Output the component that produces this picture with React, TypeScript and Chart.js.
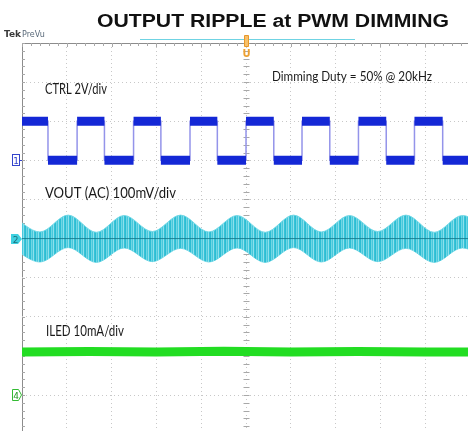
import { useEffect, useRef } from "react";
import { Chart, registerables } from "chart.js";

Chart.register(...registerables);

// ---- scope screen (divisions) ----
const X_MAX = 9.955; // visible horizontal divisions
const Y_MAX = 9.92; // visible vertical divisions (counted from top)
const xGridTicks = [0, 1, 2, 3, 4, 5, 6, 7, 8, 9];
const yGridTicks = [0, 1, 2, 3, 4, 5, 6, 7, 8, 9];

// ---- CH1: CTRL (PWM square wave) ----
const ctrlHighLevel = 2.0;
const ctrlLowLevel = 3.0;
const ctrlFalls = [0.58, 1.84, 3.1, 4.36, 5.62, 6.87, 8.13, 9.39];
const ctrlRises = [1.23, 2.49, 3.75, 5.0, 6.25, 7.51, 8.76];

// ---- CH2: VOUT (AC) ripple envelope ----
const voutX = [-0.23, 0.4, 1.03, 1.66, 2.28, 2.91, 3.54, 4.17, 4.8, 5.43, 6.06, 6.68, 7.31, 7.94, 8.57, 9.2, 9.83, 10.46];
const voutUpper = [4.41, 4.83, 4.4, 4.84, 4.41, 4.82, 4.4, 4.83, 4.41, 4.84, 4.4, 4.83, 4.41, 4.82, 4.4, 4.84, 4.41, 4.83];
const voutLower = [5.24, 5.6, 5.23, 5.61, 5.24, 5.59, 5.25, 5.6, 5.24, 5.61, 5.23, 5.6, 5.24, 5.59, 5.25, 5.61, 5.24, 5.6];
const voutMeanLevel = 5.0;

// ---- CH4: ILED ----
const iledX = [0, 1.5, 3, 4.5, 6, 7.5, 9, 10];
const iledY = [7.9, 7.89, 7.9, 7.88, 7.9, 7.89, 7.9, 7.9];

// ---- texts ----
const titleText = "OUTPUT RIPPLE at PWM DIMMING";
const ctrlLabel = "CTRL 2V/div";
const voutLabel = "VOUT (AC) 100mV/div";
const iledLabel = "ILED 10mA/div";
const dutyLabel = "Dimming Duty = 50% @ 20kHz";

function buildCtrl() {
  const edges = [
    ...ctrlFalls.map((t) => ({ t, to: ctrlLowLevel })),
    ...ctrlRises.map((t) => ({ t, to: ctrlHighLevel })),
  ].sort((a, b) => a.t - b.t);
  const trace: any[] = [];
  const plateaus: any[] = [];
  let level = ctrlHighLevel;
  let start = 0;
  trace.push({ x: 0, y: level });
  for (const e of edges) {
    trace.push({ x: e.t, y: level });
    trace.push({ x: e.t, y: e.to });
    plateaus.push({ x: start, y: level }, { x: e.t, y: level }, { x: e.t, y: null });
    level = e.to;
    start = e.t;
  }
  trace.push({ x: X_MAX, y: level });
  plateaus.push({ x: start, y: level }, { x: X_MAX, y: level });
  return { trace, plateaus };
}

function makeHatch(colors: string[]) {
  const c = document.createElement("canvas");
  c.width = colors.length;
  c.height = 1;
  const g = c.getContext("2d") as CanvasRenderingContext2D;
  colors.forEach((col, i) => {
    g.fillStyle = col;
    g.fillRect(i, 0, 1, 1);
  });
  return g.createPattern(c, "repeat");
}

function fitText(ctx: CanvasRenderingContext2D, text: string, left: number, baseline: number, width: number, font: string, color: string) {
  ctx.save();
  ctx.font = font;
  ctx.fillStyle = color;
  ctx.textAlign = "left";
  ctx.textBaseline = "alphabetic";
  const w = ctx.measureText(text).width;
  ctx.translate(left, baseline);
  ctx.scale(width / w, 1);
  ctx.fillText(text, 0, 0);
  ctx.restore();
}

const scopePlugin = {
  id: "scope",
  beforeDatasetsDraw(chart: any) {
    const { ctx, chartArea: a, scales } = chart;
    const x = scales.x;
    const y = scales.y;
    ctx.save();
    ctx.strokeStyle = "#a8a8a8";
    ctx.lineWidth = 1;
    ctx.beginPath();
    const xc = Math.round(x.getPixelForValue(5)) + 0.5;
    const yc = Math.round(y.getPixelForValue(5)) + 0.5;
    for (let i = 0; i <= 55; i++) {
      const v = i * 0.2;
      if (v > X_MAX) break;
      const px = Math.round(x.getPixelForValue(v)) + 0.5;
      const len = i % 5 === 0 ? 4 : 3;
      ctx.moveTo(px, a.top);
      ctx.lineTo(px, a.top + len);
      ctx.moveTo(px, yc - 2);
      ctx.lineTo(px, yc + 3);
    }
    for (let i = 0; i <= 55; i++) {
      const v = i * 0.2;
      if (v > Y_MAX) break;
      const py = Math.round(y.getPixelForValue(v)) + 0.5;
      ctx.moveTo(a.left, py);
      ctx.lineTo(a.left + 3, py);
      ctx.moveTo(xc - 3, py);
      ctx.lineTo(xc + 3, py);
    }
    ctx.stroke();
    ctx.restore();
  },
  afterDraw(chart: any) {
    const { ctx, scales } = chart;
    const x = scales.x;
    const y = scales.y;
    ctx.save();
    // title
    fitText(ctx, titleText, 97, 27, 352, "bold 18px 'Liberation Sans', Arial, sans-serif", "#111111");
    // Tek PreVu
    ctx.font = "bold 9px 'DejaVu Sans', sans-serif";
    ctx.fillStyle = "#3a3a3a";
    ctx.textBaseline = "alphabetic";
    ctx.fillText("Tek", 4, 37);
    ctx.font = "8px 'DejaVu Sans', sans-serif";
    ctx.fillStyle = "#5a6a7a";
    ctx.fillText("PreVu", 22, 37);
    // record view bar
    ctx.strokeStyle = "#6fd3e3";
    ctx.lineWidth = 1;
    ctx.beginPath();
    ctx.moveTo(140, 39.5);
    ctx.lineTo(355, 39.5);
    ctx.stroke();
    // trigger position marker
    const tx = Math.round(x.getPixelForValue(5));
    ctx.fillStyle = "#f7c06a";
    ctx.strokeStyle = "#e8982a";
    ctx.beginPath();
    ctx.rect(tx - 1.5, 35.5, 4, 11);
    ctx.fill();
    ctx.stroke();
    ctx.font = "bold 10px 'DejaVu Sans', sans-serif";
    ctx.fillStyle = "#eea030";
    ctx.textAlign = "center";
    ctx.fillText("U", tx + 0.5, 57);
    ctx.textAlign = "left";
    // labels
    const lf = "15px Lato, 'Open Sans', sans-serif";
    fitText(ctx, ctrlLabel, 45, 94, 62, lf, "#1a1a1a");
    fitText(ctx, voutLabel, 45, 198, 131, lf, "#1a1a1a");
    fitText(ctx, iledLabel, 46, 336, 78, lf, "#1a1a1a");
    fitText(ctx, dutyLabel, 272, 81, 160, "14px Lato, 'Open Sans', sans-serif", "#1a1a1a");
    // channel markers
    const y1 = Math.round(y.getPixelForValue(ctrlLowLevel));
    ctx.strokeStyle = "#3344cc";
    ctx.lineWidth = 1;
    ctx.strokeRect(12.5, y1 - 5.5, 7, 11);
    ctx.font = "9px 'DejaVu Sans', sans-serif";
    ctx.fillStyle = "#3344cc";
    ctx.textAlign = "center";
    ctx.fillText("1", 16, y1 + 3.5);
    ctx.beginPath();
    ctx.moveTo(20, y1 + 0.5);
    ctx.lineTo(22, y1 + 0.5);
    ctx.stroke();
    const y2 = Math.round(y.getPixelForValue(voutMeanLevel));
    ctx.fillStyle = "#3fd0e0";
    ctx.beginPath();
    ctx.moveTo(11, y2 - 5);
    ctx.lineTo(18, y2 - 5);
    ctx.lineTo(22, y2);
    ctx.lineTo(18, y2 + 5);
    ctx.lineTo(11, y2 + 5);
    ctx.closePath();
    ctx.fill();
    ctx.fillStyle = "#1b6f7a";
    ctx.fillText("2", 15.5, y2 + 3.5);
    const y4 = Math.round(y.getPixelForValue(9));
    ctx.strokeStyle = "#33bb33";
    ctx.beginPath();
    ctx.moveTo(12.5, y4 - 5.5);
    ctx.lineTo(18.5, y4 - 5.5);
    ctx.lineTo(21.5, y4);
    ctx.lineTo(18.5, y4 + 5.5);
    ctx.lineTo(12.5, y4 + 5.5);
    ctx.closePath();
    ctx.stroke();
    ctx.fillStyle = "#229922";
    ctx.fillText("4", 16, y4 + 3.5);
    ctx.restore();
  },
};

export default function App() {
  const ref = useRef<HTMLCanvasElement>(null);
  useEffect(() => {
    document.body.style.margin = "0";
    document.body.style.overflow = "hidden";
    const { trace, plateaus } = buildCtrl();
    const voutPattern = makeHatch(["#2cbdd3", "#6fd6e4", "#49c9dc", "#8ee0ec", "#37c2d7"]);
    const chart = new Chart(ref.current as HTMLCanvasElement, {
      type: "line",
      data: {
        datasets: [
          {
            label: "CTRL",
            data: plateaus,
            borderColor: "#1428d6",
            borderWidth: 9,
            borderCapStyle: "butt",
            fill: false,
            spanGaps: false,
            tension: 0,
            clip: 0,
          },
          {
            label: "CTRL edges",
            data: trace,
            borderColor: "#9494ea",
            borderWidth: 1.5,
            fill: false,
            tension: 0,
            clip: 0,
          },
          {
            label: "ILED",
            data: iledX.map((v, i) => ({ x: v, y: iledY[i] })),
            borderColor: "#22dd22",
            borderWidth: 9,
            borderCapStyle: "butt",
            fill: false,
            tension: 0,
            clip: 0,
          },
          {
            label: "VOUT mean",
            data: [
              { x: 0, y: voutMeanLevel },
              { x: X_MAX, y: voutMeanLevel },
            ],
            borderColor: "rgba(20,120,140,0.85)",
            borderWidth: 1,
            fill: false,
            clip: 0,
          },
          {
            label: "VOUT upper",
            data: voutX.map((v, i) => ({ x: v, y: voutUpper[i] })),
            borderColor: "rgba(110,215,230,0.9)",
            borderWidth: 1,
            backgroundColor: voutPattern,
            fill: "+1",
            cubicInterpolationMode: "monotone",
            clip: 0,
          },
          {
            label: "VOUT lower",
            data: voutX.map((v, i) => ({ x: v, y: voutLower[i] })),
            borderColor: "rgba(110,215,230,0.9)",
            borderWidth: 1,
            fill: false,
            cubicInterpolationMode: "monotone",
            clip: 0,
          },
        ] as any,
      },
      options: {
        animation: false,
        responsive: false,
        devicePixelRatio: 1,
        layout: { padding: { left: 22, top: 43, right: 0, bottom: 0 } },
        elements: { point: { radius: 0 } },
        plugins: {
          legend: { display: false },
          title: { display: false },
          tooltip: { enabled: false },
        },
        scales: {
          x: {
            type: "linear",
            min: 0,
            max: X_MAX,
            afterBuildTicks: (s: any) => {
              s.ticks = xGridTicks.map((v) => ({ value: v }));
            },
            ticks: { display: false },
            grid: {
              drawTicks: false,
              color: (c: any) => (c.tick && c.tick.value === 0 ? "#8c8c8c" : "#c8c8c8"),
              lineWidth: 1,
            },
            border: {
              display: false,
              dash: (c: any) => (c.tick && c.tick.value === 0 ? [] : [1, 3]),
            },
          },
          y: {
            type: "linear",
            reverse: true,
            min: 0,
            max: Y_MAX,
            afterBuildTicks: (s: any) => {
              s.ticks = yGridTicks.map((v) => ({ value: v }));
            },
            ticks: { display: false },
            grid: {
              drawTicks: false,
              color: (c: any) => (c.tick && c.tick.value === 0 ? "#8c8c8c" : "#c8c8c8"),
              lineWidth: 1,
            },
            border: {
              display: false,
              dash: (c: any) => (c.tick && c.tick.value === 0 ? [] : [1, 3]),
            },
          },
        } as any,
      },
      plugins: [scopePlugin as any],
    });
    return () => chart.destroy();
  }, []);
  return (
    <div style={{ width: 468, height: 431 }}>
      <canvas ref={ref} width={468} height={431} style={{ display: "block" }} />
    </div>
  );
}
